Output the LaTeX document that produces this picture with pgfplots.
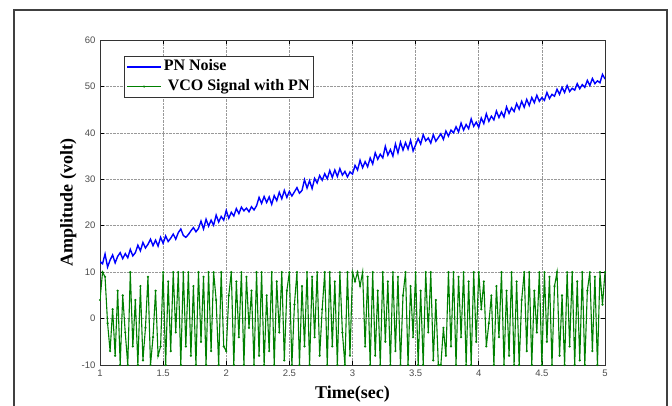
\documentclass[border=0pt]{standalone}
\usepackage{pgfplots}
\pgfplotsset{compat=1.18}
\usepackage{fontspec}
\setmainfont{Liberation Serif}
\newfontfamily\ticksfont{Liberation Sans}
\definecolor{mblue}{rgb}{0,0,1}
\definecolor{mgreen}{rgb}{0,0.5,0}
\begin{document}
\begin{tikzpicture}
\useasboundingbox (0pt,0pt) rectangle (672pt,-405pt);
\draw[black!75, line width=1.2pt] (14pt,-10pt) rectangle (667pt,-440pt);
\begin{axis}[
  at={(100pt,-365pt)}, anchor=south west, scale only axis,
  width=505pt, height=325pt,
  xmin=1, xmax=5, ymin=-10, ymax=60,
  xtick={1,1.5,2,2.5,3,3.5,4,4.5,5},
  xticklabels={1,1.5,2,2.5,3,3.5,4,4.5,5},
  ytick={-10,0,10,20,30,40,50,60},
  grid=major, grid style={densely dotted, gray!80, line width=0.6pt},
  tick align=inside, major tick length=4pt,
  tick style={black, line width=0.6pt},
  axis line style={black!80, line width=0.9pt},
  /pgf/number format/assume math mode=true,
  ticklabel style={font=\ticksfont\fontsize{9.5}{9.5}\selectfont, text=black!70},
  xticklabel style={yshift=-1pt},
  yticklabel style={xshift=-1pt},
  xlabel={Time(sec)}, ylabel={Amplitude (volt)},
  label style={font=\bfseries\fontsize{18}{18}\selectfont},
  xlabel style={at={(axis description cs:0.5,-0.09)}, anchor=center},
  ylabel style={at={(axis description cs:-0.063,0.5)}, anchor=center},
  legend style={at={(axis description cs:0.0475,0.951)}, anchor=north west,
    draw=black!80, line width=0.8pt, fill=white,
    font=\bfseries\fontsize{16}{16}\selectfont,
    inner xsep=2pt, inner ysep=1pt,
    nodes={inner sep=2pt, text height=11.5pt, text depth=4pt}},
  legend cell align=left,
  legend image code/.code={\draw[mark repeat=2,mark phase=2,#1] plot coordinates {(0pt,0pt)(17pt,0pt)(34pt,0pt)};},
]
\addplot[mblue, line width=1.4pt] coordinates {
(1.00,12.3)(1.02,11.8)(1.04,13.9)(1.06,11.1)(1.08,12.6)(1.10,13.7)(1.12,12.0)(1.14,13.4)(1.16,14.2)(1.18,12.9)
(1.20,14.0)(1.22,13.1)(1.24,14.9)(1.26,13.5)(1.28,14.2)(1.30,15.8)(1.32,14.6)(1.34,16.4)(1.36,15.2)(1.38,16.0)
(1.40,17.1)(1.42,15.7)(1.44,16.9)(1.46,15.6)(1.48,17.5)(1.50,16.2)(1.52,17.8)(1.54,16.6)(1.56,17.3)(1.58,18.2)
(1.60,17.1)(1.62,18.5)(1.64,19.3)(1.66,17.9)(1.68,17.5)(1.70,18.1)(1.72,18.9)(1.74,19.6)(1.76,18.7)(1.78,19.4)
(1.80,21.0)(1.82,19.3)(1.84,21.4)(1.86,19.9)(1.88,21.2)(1.90,20.1)(1.92,22.3)(1.94,20.8)(1.96,22.0)(1.98,21.2)
(2.00,23.3)(2.02,21.6)(2.04,22.9)(2.06,22.1)(2.08,23.7)(2.10,22.6)(2.12,24.0)(2.14,23.2)(2.16,23.8)(2.18,23.0)
(2.20,24.1)(2.22,23.4)(2.24,24.3)(2.26,26.1)(2.28,24.8)(2.30,26.3)(2.32,25.0)(2.34,26.2)(2.36,24.6)(2.38,26.5)
(2.40,25.4)(2.42,27.2)(2.44,25.8)(2.46,27.6)(2.48,26.1)(2.50,27.4)(2.52,26.4)(2.54,27.3)(2.56,28.2)(2.58,27.0)
(2.60,27.6)(2.62,29.9)(2.64,28.1)(2.66,29.7)(2.68,28.0)(2.70,30.2)(2.72,29.2)(2.74,30.8)(2.76,29.8)(2.78,31.2)
(2.80,30.1)(2.82,31.9)(2.84,30.4)(2.86,32.0)(2.88,30.6)(2.90,32.3)(2.92,30.9)(2.94,31.7)(2.96,30.5)(2.98,31.6)
(3.00,31.1)(3.02,33.0)(3.04,32.0)(3.06,34.1)(3.08,32.5)(3.10,33.8)(3.12,32.7)(3.14,34.6)(3.16,33.3)(3.18,35.7)
(3.20,34.3)(3.22,35.4)(3.24,34.6)(3.26,37.1)(3.28,35.2)(3.30,36.4)(3.32,35.0)(3.34,37.6)(3.36,35.7)(3.38,38.0)
(3.40,36.3)(3.42,37.9)(3.44,36.5)(3.46,38.4)(3.48,36.1)(3.50,37.4)(3.52,38.8)(3.54,37.6)(3.56,39.6)(3.58,38.3)
(3.60,38.9)(3.62,37.8)(3.64,39.6)(3.66,38.2)(3.68,39.0)(3.70,39.8)(3.72,38.6)(3.74,40.4)(3.76,39.3)(3.78,40.6)
(3.80,40.0)(3.82,41.3)(3.84,40.2)(3.86,42.1)(3.88,40.6)(3.90,41.8)(3.92,40.9)(3.94,43.0)(3.96,41.4)(3.98,42.3)
(4.00,41.2)(4.02,43.2)(4.04,42.0)(4.06,44.1)(4.08,42.5)(4.10,43.6)(4.12,42.8)(4.14,44.7)(4.16,43.3)(4.18,44.5)
(4.20,43.4)(4.22,45.6)(4.24,44.2)(4.26,45.4)(4.28,44.6)(4.30,46.3)(4.32,45.1)(4.34,46.8)(4.36,45.5)(4.38,47.2)
(4.40,45.9)(4.42,47.6)(4.44,46.5)(4.46,48.1)(4.48,46.8)(4.50,47.6)(4.52,47.0)(4.54,48.7)(4.56,47.4)(4.58,48.3)
(4.60,47.9)(4.62,49.4)(4.64,48.3)(4.66,49.8)(4.68,48.7)(4.70,50.2)(4.72,48.9)(4.74,49.6)(4.76,49.2)(4.78,50.6)
(4.80,49.5)(4.82,50.4)(4.84,49.8)(4.86,51.3)(4.88,50.2)(4.90,51.7)(4.92,50.6)(4.94,51.2)(4.96,50.8)(4.98,52.6)
(5.00,51.6)
};
\addlegendentry{PN Noise}
\addplot[mgreen, line width=1.1pt, mark=*, mark size=0.45pt] coordinates {
(1.00,4)(1.02,10)(1.04,9)(1.06,-1)(1.08,-7)
(1.10,2)(1.12,-8)(1.14,6)(1.16,-10)(1.18,5)
(1.20,-3)(1.22,-10)(1.24,10)(1.26,-6)(1.28,4)
(1.30,-10)(1.32,7)(1.34,-9)(1.36,-2)(1.38,9)
(1.40,-10)(1.42,-4)(1.44,6)(1.46,-8)(1.48,-6)
(1.50,10)(1.52,-10)(1.54,8)(1.56,-7)(1.58,10)
(1.60,-3)(1.62,10)(1.64,-10)(1.66,10)(1.68,-6)
(1.70,10)(1.72,-8)(1.74,7)(1.76,-10)(1.78,10)
(1.80,-5)(1.82,9)(1.84,-10)(1.86,10)(1.88,-7)
(1.90,10)(1.92,4)(1.94,-10)(1.96,10)(1.98,-6)
(2.00,-7)(2.02,5)(2.04,10)(2.06,-10)(2.08,8)
(2.10,-4)(2.12,10)(2.14,-10)(2.16,9)(2.18,-2)
(2.20,6)(2.22,-10)(2.24,10)(2.26,-8)(2.28,10)
(2.30,-10)(2.32,5)(2.34,-7)(2.36,10)(2.38,-10)
(2.40,8)(2.42,-3)(2.44,10)(2.46,-9)(2.48,6)
(2.50,10)(2.52,-10)(2.54,3)(2.56,10)(2.58,-10)
(2.60,7)(2.62,-6)(2.64,10)(2.66,-10)(2.68,9)
(2.70,-4)(2.72,10)(2.74,-8)(2.76,2)(2.78,10)
(2.80,-10)(2.82,10)(2.84,-6)(2.86,8)(2.88,-10)
(2.90,10)(2.92,-3)(2.94,-10)(2.96,10)(2.98,-8)
(3.00,10)(3.02,8)(3.04,10)(3.06,7)(3.08,10)
(3.10,-6)(3.12,9)(3.14,-10)(3.16,10)(3.18,-8)
(3.20,6)(3.22,-10)(3.24,10)(3.26,-5)(3.28,8)
(3.30,-10)(3.32,10)(3.34,-7)(3.36,9)(3.38,-10)
(3.40,5)(3.42,10)(3.44,-10)(3.46,7)(3.48,-4)
(3.50,10)(3.52,-10)(3.54,6)(3.56,-10)(3.58,10)
(3.60,-3)(3.62,10)(3.64,-9)(3.66,4)(3.68,-10)
(3.70,-10)(3.72,-2)(3.74,-8)(3.76,10)(3.78,-6)
(3.80,10)(3.82,-10)(3.84,9)(3.86,-4)(3.88,10)
(3.90,-10)(3.92,8)(3.94,-10)(3.96,10)(3.98,-5)
(4.00,10)(4.02,2)(4.04,8)(4.06,-6)(4.08,-1)
(4.10,5)(4.12,-10)(4.14,7)(4.16,-4)(4.18,10)
(4.20,-10)(4.22,6)(4.24,-8)(4.26,10)(4.28,-10)
(4.30,8)(4.32,-10)(4.34,4)(4.36,10)(4.38,-7)
(4.40,10)(4.42,-10)(4.44,6)(4.46,-3)(4.48,10)
(4.50,-10)(4.52,10)(4.54,-5)(4.56,9)(4.58,-10)
(4.60,7)(4.62,10)(4.64,-8)(4.66,5)(4.68,-10)
(4.70,10)(4.72,-6)(4.74,10)(4.76,-10)(4.78,8)
(4.80,-9)(4.82,10)(4.84,-10)(4.86,6)(4.88,10)
(4.90,-7)(4.92,9)(4.94,-10)(4.96,10)(4.98,3)
(5.00,10)
};
\addlegendentry{\ VCO Signal with PN}
\end{axis}
\end{tikzpicture}
\end{document}
